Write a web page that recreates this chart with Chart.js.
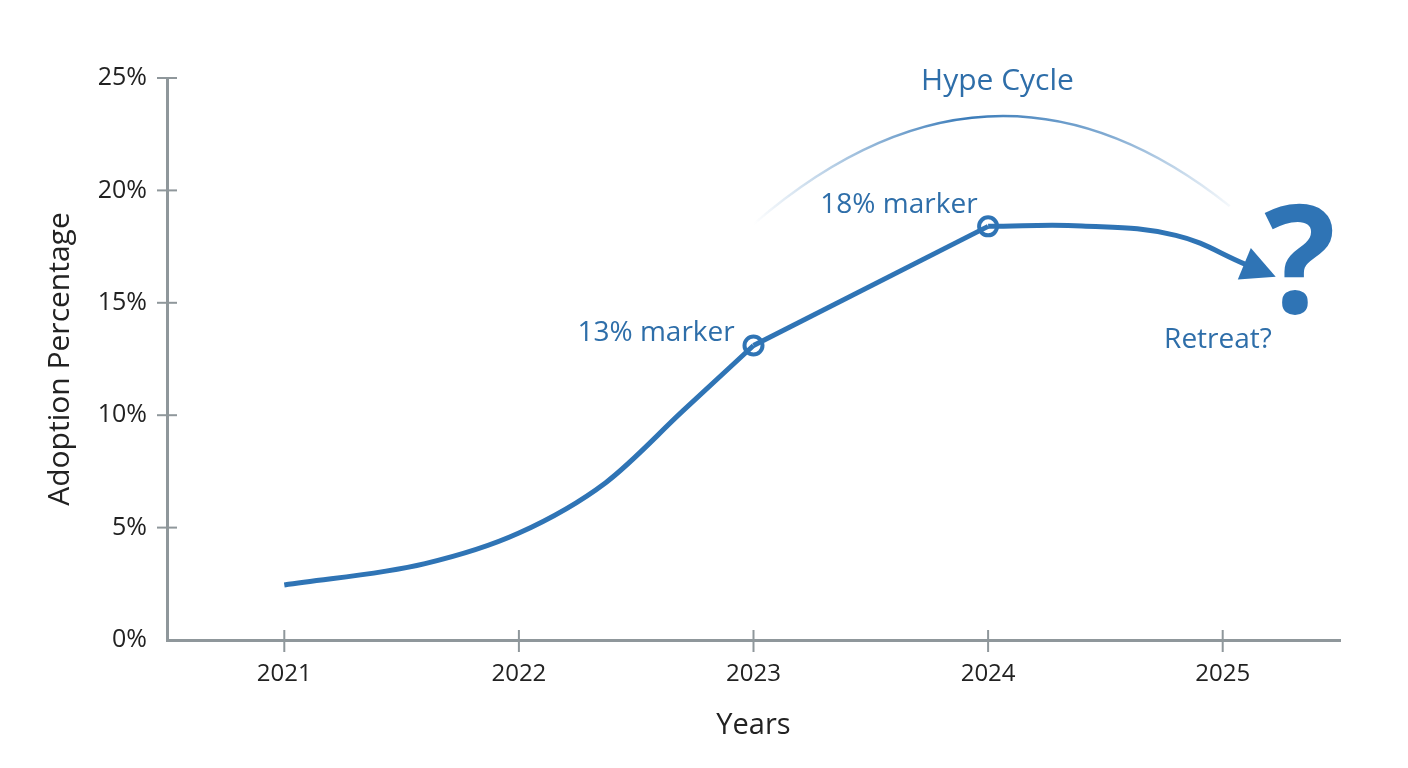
<!DOCTYPE html>
<html>
<head>
<meta charset="utf-8">
<script src="https://cdn.jsdelivr.net/npm/chart.js@4"></script>
<style>
  html, body { margin: 0; padding: 0; background: #fff; }
  #wrap { width: 1408px; height: 768px; }
</style>
</head>
<body>
<div id="wrap"><canvas id="chart"></canvas></div>
<script>
'use strict';

const years = [2021, 2022, 2023, 2024, 2025]
const yTicks = [0, 5, 10, 15, 20, 25]

// curved rise 2021 -> 2023
const riseX = [2021, 2021.6, 2022, 2022.37, 2022.7, 2023]
const riseY = [2.45, 3.4, 4.76, 7.0, 10.2, 13.1]
// straight climb 2023 -> 2024
const climbX = [2023, 2024]
const climbY = [13.1, 18.4]
// flat then turning down toward the question mark
const tailX = [2024, 2024.4, 2024.8, 2025.1]
const tailY = [18.4, 18.42, 18.0, 16.7]

const markerLabels = ['13% marker', '18% marker']

const blue = '#2f74b5'
const textBlue = '#2e6ea9'
const axisGrey = '#8f979b'
const font = "'Open Sans', sans-serif"

const toPts = (xs, ys) => xs.map((x, i) => ({x: x, y: ys[i]}))

const decorations = {
    id: 'decorations',
    afterDraw(chart) {
        const ctx = chart.ctx
        const xs = chart.scales.x, ys = chart.scales.y
        const area = chart.chartArea

        // crossing tick marks
        ctx.save()
        ctx.strokeStyle = axisGrey
        ctx.lineWidth = 2
        yTicks.forEach(v => {
            if (v === 0) return
            const py = ys.getPixelForValue(v)
            ctx.beginPath()
            ctx.moveTo(area.left - 10, py)
            ctx.lineTo(area.left + 10, py)
            ctx.stroke()
        })
        years.forEach(v => {
            const px = xs.getPixelForValue(v)
            ctx.beginPath()
            ctx.moveTo(px, area.bottom - 10)
            ctx.lineTo(px, area.bottom + 12)
            ctx.stroke()
        })
        ctx.restore()

        // hype cycle arc
        const ax0 = xs.getPixelForValue(2023.0), ay0 = ys.getPixelForValue(18.5)
        const ax1 = xs.getPixelForValue(2025.03), ay1 = ys.getPixelForValue(19.3)
        const cx = xs.getPixelForValue(2024.02), cy = ys.getPixelForValue(27.7)
        const grad = ctx.createLinearGradient(ax0, 0, ax1, 0)
        grad.addColorStop(0, 'rgba(47,116,181,0)')
        grad.addColorStop(0.45, 'rgba(47,116,181,0.95)')
        grad.addColorStop(0.75, 'rgba(47,116,181,0.6)')
        grad.addColorStop(1, 'rgba(47,116,181,0.05)')
        ctx.save()
        ctx.strokeStyle = grad
        ctx.lineWidth = 2.5
        ctx.beginPath()
        ctx.moveTo(ax0, ay0)
        ctx.quadraticCurveTo(cx, cy, ax1, ay1)
        ctx.stroke()
        ctx.restore()

        // arrow head at end of tail
        const meta = chart.getDatasetMeta(2)
        const last = meta.data[meta.data.length - 1]
        const dx = last.x - last.cp1x, dy = last.y - last.cp1y
        const len = Math.hypot(dx, dy) || 1
        const ux = dx / len, uy = dy / len
        const tipX = last.x + ux * 32, tipY = last.y + uy * 32
        const bx = last.x - ux * 2, by = last.y - uy * 2
        ctx.save()
        ctx.fillStyle = blue
        ctx.beginPath()
        ctx.moveTo(tipX, tipY)
        ctx.lineTo(bx - uy * 17, by + ux * 17)
        ctx.lineTo(bx + uy * 17, by - ux * 17)
        ctx.closePath()
        ctx.fill()
        ctx.restore()

        // texts
        ctx.save()
        ctx.fillStyle = textBlue
        ctx.textBaseline = 'middle'
        ctx.font = '30px ' + font
        ctx.textAlign = 'center'
        ctx.fillText('Hype Cycle', xs.getPixelForValue(2024.04), ys.getPixelForValue(24.85))
        ctx.font = '28px ' + font
        ctx.textAlign = 'right'
        ctx.fillText(markerLabels[0], xs.getPixelForValue(2022.92), ys.getPixelForValue(13.65))
        ctx.textAlign = 'center'
        ctx.fillText(markerLabels[1], xs.getPixelForValue(2023.62), ys.getPixelForValue(19.35))
        ctx.fillText('Retreat?', xs.getPixelForValue(2024.98), ys.getPixelForValue(13.35))
        ctx.fillStyle = blue
        ctx.font = 'bold 150px ' + font
        ctx.fillText('?', xs.getPixelForValue(2025.33), ys.getPixelForValue(16.45))
        ctx.restore()
    }
}

const ctx = document.getElementById('chart').getContext('2d')
const chart = new Chart(ctx, {
    type: 'line',
    data: {
        datasets: [
            {
                data: toPts(riseX, riseY),
                borderColor: blue,
                borderWidth: 5,
                pointRadius: 0,
                cubicInterpolationMode: 'monotone',
            },
            {
                data: toPts(climbX, climbY),
                borderColor: blue,
                borderWidth: 5,
                pointRadius: 0,
                tension: 0,
            },
            {
                data: toPts(tailX, tailY),
                borderColor: blue,
                borderWidth: 5,
                pointRadius: 0,
                borderCapStyle: 'butt',
                tension: 0.4,
            },
            {
                data: toPts(climbX, climbY),
                showLine: false,
                pointRadius: 9,
                pointBorderWidth: 4,
                pointBackgroundColor: '#ffffff',
                pointBorderColor: blue,
            }
        ]
    },
    options: {
        responsive: true,
        maintainAspectRatio: false,
        animation: false,
        layout: {
            padding: {top: 78, right: 68, left: 0, bottom: 0}
        },
        plugins: {
            legend: {display: false},
            tooltip: {enabled: false}
        },
        scales: {
            x: {
                type: 'linear',
                min: 2020.5,
                max: 2025.5,
                afterBuildTicks: (scale) => { scale.ticks = years.map(v => ({value: v})) },
                afterFit: (scale) => { scale.height = 128 },
                grid: {drawOnChartArea: false, drawTicks: false},
                border: {color: axisGrey, width: 3},
                ticks: {
                    padding: 20,
                    color: '#222',
                    font: {family: font, size: 24},
                    callback: (v) => String(v)
                },
                title: {
                    display: true,
                    text: 'Years',
                    color: '#222',
                    padding: {top: 0, bottom: 25},
                    font: {family: font, size: 29}
                }
            },
            y: {
                min: 0,
                max: 25,
                afterBuildTicks: (scale) => { scale.ticks = yTicks.map(v => ({value: v})) },
                afterFit: (scale) => { scale.width = 167 },
                grid: {drawOnChartArea: false, drawTicks: false},
                border: {color: axisGrey, width: 3},
                ticks: {
                    padding: 20,
                    color: '#222',
                    font: {family: font, size: 25},
                    callback: (v) => v + '%'
                },
                title: {
                    display: true,
                    text: 'Adoption Percentage',
                    color: '#222',
                    padding: {top: 42, bottom: 0},
                    font: {family: font, size: 30}
                }
            }
        }
    },
    plugins: [decorations]
})
</script>
</body>
</html>
